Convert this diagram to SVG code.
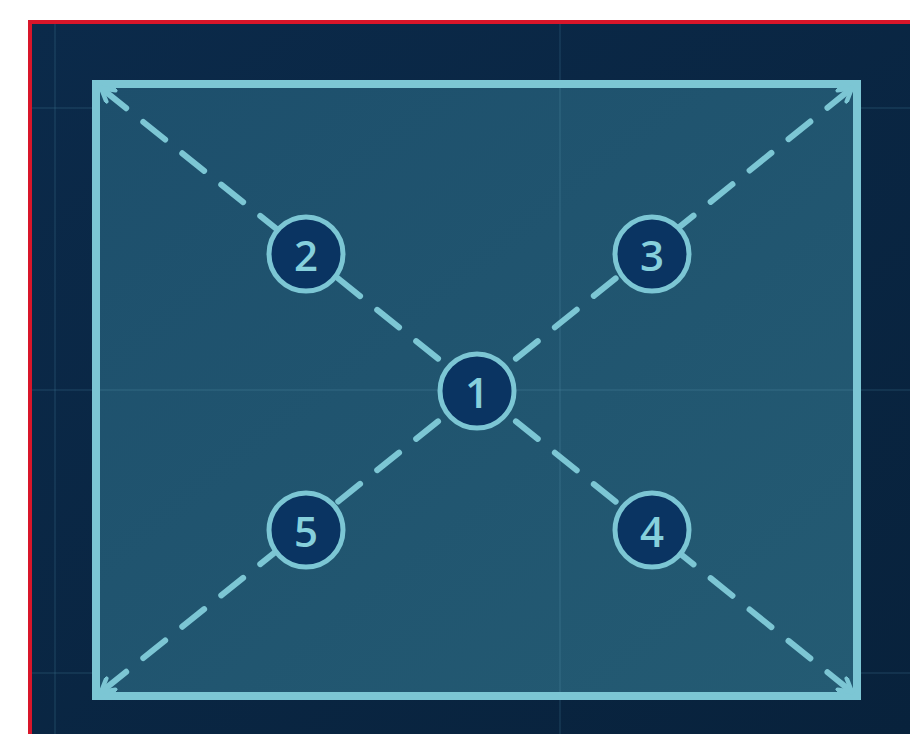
<svg xmlns="http://www.w3.org/2000/svg" width="910" height="734" viewBox="0 0 910 734">
<defs>
<linearGradient id="bg" x1="0" y1="0" x2="1" y2="1">
<stop offset="0" stop-color="#0b2a4a"/>
<stop offset="1" stop-color="#08223c"/>
</linearGradient>
<linearGradient id="panel" x1="0" y1="0" x2="1" y2="1">
<stop offset="0" stop-color="#1d4f6c"/>
<stop offset="1" stop-color="#245b73"/>
</linearGradient>
<marker id="arr" viewBox="0 0 20 20" refX="17" refY="10" markerWidth="18" markerHeight="18" markerUnits="userSpaceOnUse" orient="auto">
<path d="M3,2 L17,10 L3,18" fill="none" stroke="#7cc6d4" stroke-width="5" stroke-linecap="round" stroke-linejoin="round"/>
</marker>
<style>
.grid{stroke:#3f7591;stroke-width:2;opacity:0.2}
.dash{stroke:#7cc6d4;stroke-width:6;stroke-dasharray:28 22;stroke-linecap:round;fill:none}
.node circle{fill:#0a3462;stroke:#7cc6d4;stroke-width:5}
.node text{fill:#86d0dc;font-family:"Open Sans","Lato",sans-serif;font-size:42px;font-weight:600;text-anchor:middle;dominant-baseline:central}
</style>
</defs>
<rect x="0" y="0" width="910" height="734" fill="#ffffff"/>
<rect x="30" y="22" width="880" height="712" fill="url(#bg)"/>
<path d="M30,734 V22 H910" fill="none" stroke="#d8162a" stroke-width="4"/>
<g id="grid">
<line class="grid" x1="55" y1="24" x2="55" y2="734"/>
<line class="grid" x1="560" y1="24" x2="560" y2="734"/>
<line class="grid" x1="32" y1="108" x2="910" y2="108"/>
<line class="grid" x1="32" y1="390" x2="910" y2="390"/>
<line class="grid" x1="32" y1="673" x2="910" y2="673"/>
</g>
<g id="panel-rect">
<rect x="96" y="84" width="761" height="612" fill="url(#panel)" stroke="#7cc6d4" stroke-width="8"/>
<line x1="100" y1="390" x2="853" y2="390" stroke="#4f8aa3" stroke-width="2" opacity="0.2"/>
<line x1="560" y1="88" x2="560" y2="692" stroke="#4f8aa3" stroke-width="2" opacity="0.2"/>
</g>
<g id="connectors">
<line class="dash" x1="477" y1="390" x2="101" y2="88" marker-end="url(#arr)"/>
<line class="dash" x1="477" y1="390" x2="852" y2="88" marker-end="url(#arr)"/>
<line class="dash" x1="477" y1="390" x2="852" y2="692" marker-end="url(#arr)"/>
<line class="dash" x1="477" y1="390" x2="101" y2="692" marker-end="url(#arr)"/>
</g>
<g id="n1" class="node"><circle cx="477" cy="391" r="37"/><text x="477" y="391">1</text></g>
<g id="n2" class="node"><circle cx="306" cy="254" r="37"/><text x="306" y="254">2</text></g>
<g id="n3" class="node"><circle cx="652" cy="254" r="37"/><text x="652" y="254">3</text></g>
<g id="n4" class="node"><circle cx="652" cy="530" r="37"/><text x="652" y="530">4</text></g>
<g id="n5" class="node"><circle cx="306" cy="530" r="37"/><text x="306" y="530">5</text></g>
</svg>
